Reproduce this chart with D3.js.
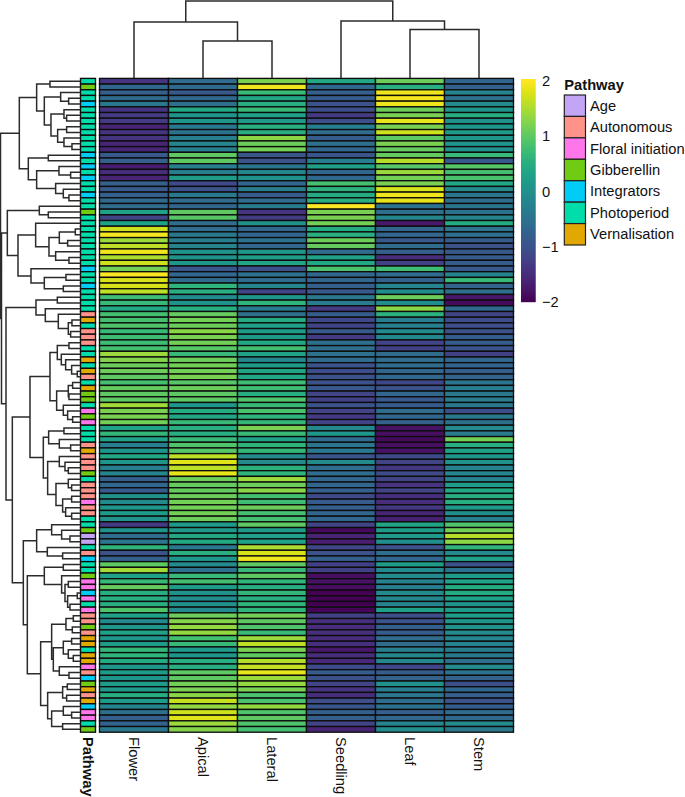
<!DOCTYPE html>
<html><head><meta charset="utf-8">
<script src="https://cdn.jsdelivr.net/npm/d3@7"></script>
<style>html,body{margin:0;padding:0;background:#fff}svg{display:block}text{font-family:"Liberation Sans",Arial,sans-serif;fill:#111}</style>
</head><body><svg id="c" width="685" height="797"></svg>
<script>
const tissues = ["Flower","Apical","Lateral","Seedling","Leaf","Stem"];
const flower = [-1.4,-.7,-.8,-.65,-.4,-1.4,-1.3,-1.3,-1.6,-1.4,-1.4,-1.6,-1.6,-.9,-.8,-1.7,-1.5,-1.6,-.8,-.9,-.8,-.65,-.6,.3,-1.2,.3,1.7,1.95,1.4,1.6,1.9,1.5,1.7,1.15,2,1.75,1.75,1.6,.75,
 .7,.4,.8,.8,.9,.7,.75,.75,.8,1.4,1.25,1.1,1.1,1,.8,1.05,1,1,1.45,1.2,1.2,1.15,.3,.65,.3,-.3,.1,.4,.1,-.3,-.2,-.8,-.7,-.85,0,-.1,.1,.2,0,-1.3,
 .05,-.6,-.45,.6,-1,-.8,1,1.45,.3,.7,1.05,.5,.5,.5,.9,.3,-.1,.1,.3,.1,.2,.65,.6,.45,.1,.2,.1,.2,.15,.5,.2,-.2,-.55,-.8,-.75,-.4];
const apical = [-.6,-.65,-.9,-.7,-.55,.4,.1,.1,-.4,-.5,-.3,-.2,-.3,1,1,-.3,-.3,.2,-1.1,-1,-.4,-.6,-.7,1,.95,-.6,-.6,-.4,-.3,-.2,0,0,.1,-.95,-.7,-.6,.6,.5,-.1,
 .05,.5,1.05,1.15,1.1,1.3,1.2,1.15,.95,.7,1.1,1.15,1.15,1.2,.95,1.1,1,1,.1,.45,.35,.7,.5,.5,.7,.9,.95,1.6,1.8,1.6,1.85,1.1,1.05,1.05,1.1,1.15,1.15,1.15,1.1,.15,
 .15,.4,.4,-.4,.5,.1,-.1,-.5,.7,.8,.2,0,-.1,0,-.1,1.1,1.25,1.35,1.35,.8,.7,.2,.1,.5,.5,1,1,1.15,1.2,1.3,1.65,1.35,1.7,1.8,1.4,1.25];
const lateral = [1.2,1.9,.7,.35,.5,.7,.25,.15,.5,.5,1.3,1.1,1.15,-.95,-1,-.45,-.15,0,-.7,-.35,-.85,-.6,-.35,-1.4,-1.3,0,-.7,-.7,-.5,-.7,.1,.2,.35,-1,-.5,-.6,-.2,-1.2,.1,
 .6,-.35,-.55,.45,.3,.2,.15,.4,.8,.3,-.15,.2,.35,.4,.75,.75,.5,.9,.7,.85,.6,.65,1.2,.7,.3,.6,.65,-.1,-.1,.55,.6,1.4,1.1,1.3,.8,.75,1.1,.8,.8,1,
 .2,.25,.3,1.5,1.75,1.9,1,.7,1,.6,.5,.65,.5,.6,.6,1.15,1,.9,.7,1.4,1.6,1.2,1,1.55,1.65,1.85,1.4,1.35,1.2,.85,.85,1.35,.9,1,.9,.8];
const seedling = [.4,-.65,-.8,-.85,-1,-1.05,-1.3,-1.05,-.3,-.6,-.85,-.55,-.7,-.95,-.3,.25,-.7,-.7,.8,.55,.45,.5,2,1.2,1.2,1.15,.45,.5,1.1,1.05,-.6,.3,.4,.85,-.7,-.7,-.8,-.9,-.4,
 -.35,-1.3,-.85,-1.15,-1.2,-.9,-1.3,-.55,-.55,-.5,-.6,-1,-1.05,-1,-1,-.9,-1.2,-1.25,-1,-1.2,-1.3,-1.2,-.15,.1,-.6,-.45,-.4,-.95,-.1,-.6,-.6,-.7,-.7,-.8,-1.1,-.85,-.8,-.7,-.7,-1.2,
 -1.9,-1.6,-1.7,-1.15,-1,-.8,-1.25,-1.25,-1.85,-1.8,-1.85,-2,-2,-2,-1.95,-1.25,-1.45,-1.5,-1.45,-1.5,-1.45,-1.75,-1.5,-1.55,-1.1,-.85,-1,-1.2,-1.4,-1.5,-1.05,-.95,-.8,-.8,-1.2,-1.6];
const leaf = [1.1,.5,1.9,1.95,1.9,1.1,1.2,1.85,1.2,1.7,1,1.2,1.05,1.05,1.55,.95,1.4,1.15,1.2,1.75,1.9,1.85,-.5,-.55,-.15,-1.75,-.7,-.7,-.9,-.6,-.8,-1.5,-1.25,.75,-.6,-.75,-.2,-.05,1.1,
 -.05,1.3,.55,-.3,-.3,-.1,-.15,-1.2,-1.25,-.6,-.6,-.6,-.7,-.7,-1.15,-1,-.7,-.9,-.85,-.6,-.7,-.75,-1.8,-1.85,-1.9,-1.85,-1.8,-1.1,-1.2,-1.35,-1.1,-1.2,-1.4,-1.2,-1.45,-1.5,-1.35,-1.6,-1.65,.35,
 .2,.15,-.05,-1,-.55,-.7,.2,-.1,-.1,-.25,-.3,-.1,-.15,-.2,.25,-1.05,-1,-.8,-.85,-.6,-.6,-.3,-.15,-.15,-1.15,-.85,-.75,0,-.3,-.45,-.6,-.5,-.8,-.7,-.2,-.05];
const stem = [-.7,-.75,-.2,-.5,-.1,.1,.5,0,.1,.2,.1,.05,0,.7,-.9,.95,.8,.85,.4,-.1,-.45,-.55,-.45,-.5,-.2,.45,-.45,-.55,-.85,-1,-.9,-.85,-.85,-.9,-.2,.7,-.75,-.55,-1.75,
 -1.9,-.65,-1.2,-1.1,-1.05,-1,-.85,-.85,-.95,-1.25,-.7,-.75,-.8,-.75,-.45,-.3,-.4,-.35,-.4,-1.05,-.4,-.55,-.1,-.35,1.15,.5,.3,.1,0,-.25,-.15,-.2,.2,.4,.5,.5,.15,-.05,-.3,.9,
 1.15,1.55,1.3,.6,-.1,.25,-1,-.5,.2,.3,.45,.45,.25,.05,.2,.2,.1,0,-.1,-.2,-.25,-.35,-.4,-.55,-.1,-.5,-.75,-1.05,-.7,-.8,-1,-.85,-.6,-.65,-.1,-.4];
const seriesValues = [flower,apical,lateral,seedling,leaf,stem];
const pathwayNames = ["Age","Autonomous","Floral initiation","Gibberellin","Integrators","Photoperiod","Vernalisation"];
const pathwayColors = ["#C3A5F5","#FF9289","#FF76EA","#6FCC12","#00CCF5","#00DDAA","#E0A800"];
const rowPathway = "PGPPIPPPPPPPPIPIPIPPIPPGPPPPPPPPPIPPIP PPPAVPAAAPPVPVAPVGGPFGFPPPAVAAAGPAAAFAAPP GEEPAIPPGFFIFPFAAGAVVPVVFAIGVAVIFFPG".replace(/ /g,"");
const pathwayKey = {E:"Age",A:"Autonomous",F:"Floral initiation",G:"Gibberellin",I:"Integrators",P:"Photoperiod",V:"Vernalisation"};
const rowTree = [239.5,
 [183,
  [131,[91,0,0],[108,[59,0,[35,0,0]],[88,[49,0,[41,0,0]],[68,[41,0,0],[49,0,[25,0,0]]]]]],
  [156,[96,0,0],[131,[64,0,[29,0,0]],[74,0,[51,0,[34,0,0]]]]]],
 [236.5,
  [219,[123,0,[96,0,0]],
   [187,[134,0,[94,[63,[15,0,0],[38,0,0]],[74,0,[34,0,0]]]],[148,0,[108,[43,0,0],[51,0,0]]]]],
  [223,
   [133,[69,0,0],[105,0,[66,0,[36,[25,0,0],[29,0,0]]]]],
   [204,
    [151,
     [91,[69,[34,0,0],[57,0,[44,0,[26,0,[9,0,0]]]]],[71,[36,[23,0,0],[34,0,0]],[51,0,[38,0,[23,0,0]]]]],
     [111,[95,[49,0,0],[63,0,[29,0,0]]],
      [98,[63,0,[46,0,[36,0,0]]],[73,[36,0,[26,0,0]],[53,[26,0,0],[44,0,[26,0,0]]]]]]],
    [171,
     [131,[86,0,[56,0,[31,0,0]]],[99,0,[53,0,0]]],
     [159,
      [108,[51,0,0],[56,0,[46,[36,0,0],[38,[9,0,0],[31,0,0]]]]],
      [119,
       [86,[43,[21,0,0],[24,0,0]],[81,[51,[26,0,0],[36,0,[21,0,0]]],[63,0,[34,0,0]]]],
       [98,[53,[39,0,0],[41,0,0]],[86,[51,0,[26,0,0]],[53,0,0]]]]]]]]]];
const colTree = [77,[56,0,[37,0,0]],[57,0,[48.5,0,0]]];
const legendTicks = [2,1,0,-1,-2];

const margin = {heatL:99.5,heatR:513.5,heatT:78.4,heatB:732.2,annL:80.5,annR:95.5};
const FONT = 14.7;
const svg = d3.select("#c");
const rowIdx = d3.range(flower.length);
const x = d3.scaleBand().domain(tissues).range([margin.heatL,margin.heatR]);
const y = d3.scaleBand().domain(rowIdx).range([margin.heatT,margin.heatB]);
const viridisScale = d3.scaleSequential(d3.interpolateViridis).domain([-2,2]);
const pathColor = d3.scaleOrdinal().domain(pathwayNames).range(pathwayColors);
const BORDER = "#0d0d0d", LINE = "#2b2b2b";

// heatmap
svg.append("g").selectAll("g").data(tissues).join("g").each(function(t,ci){
  d3.select(this).selectAll("rect").data(seriesValues[ci]).join("rect")
    .attr("x",x(t)).attr("y",(d,i)=>y(i)).attr("width",x.bandwidth()).attr("height",y.bandwidth())
    .attr("fill",d=>viridisScale(d)).attr("stroke",BORDER).attr("stroke-width",1.35);
});
// annotation
svg.append("g").selectAll("rect").data(rowIdx).join("rect")
  .attr("x",margin.annL).attr("width",margin.annR-margin.annL)
  .attr("y",i=>y(i)).attr("height",y.bandwidth())
  .attr("fill",i=>pathColor(pathwayKey[rowPathway[i]])).attr("stroke",BORDER).attr("stroke-width",1.35);

// dendrograms
function toHier(n){return n===0?{h:0}:{h:n[0],children:[toHier(n[1]),toHier(n[2])]};}
function layout(tree,leafPos){
  const r=d3.hierarchy(toHier(tree)); let k=0;
  r.eachAfter(n=>{ n.p = n.children? (n.children[0].p+n.children[1].p)/2 : leafPos(k++); });
  return r;
}
const rowH = d3.scaleLinear().domain([0,241]).range([80.3,0]);
const colH = d3.scaleLinear().domain([0,78]).range([78,0]);
const rootR = layout(rowTree,k=>y(k)+y.bandwidth()/2);
const pR=d3.path();
rootR.each(n=>{ if(!n.children) return; const [a,b]=n.children;
  const X=rowH(n.data.h);
  pR.moveTo(rowH(a.data.h),a.p); pR.lineTo(X,a.p); pR.lineTo(X,b.p); pR.lineTo(rowH(b.data.h),b.p);
});
svg.append("path").attr("d",pR.toString()).attr("fill","none").attr("stroke",LINE).attr("stroke-width",1.5);
const rootC = layout(colTree,k=>x(tissues[k])+x.bandwidth()/2);
const pC=d3.path();
rootC.each(n=>{ if(!n.children) return; const [a,b]=n.children;
  const Y=colH(n.data.h);
  pC.moveTo(a.p,colH(a.data.h)); pC.lineTo(a.p,Y); pC.lineTo(b.p,Y); pC.lineTo(b.p,colH(b.data.h));
});
svg.append("path").attr("d",pC.toString()).attr("fill","none").attr("stroke",LINE).attr("stroke-width",1.5);

// column labels
svg.append("g").selectAll("text").data(tissues).join("text")
  .attr("transform",t=>`translate(${x(t)+x.bandwidth()/2-5.3},737) rotate(90)`)
  .attr("font-size",FONT).text(t=>t);
svg.append("text").attr("transform","translate(82.5,737) rotate(90)")
  .attr("font-size",FONT).attr("font-weight","bold").text("Pathway");

// colour bar
const barY = d3.scaleLinear().domain([-2,2]).range([301.8,80.8]);
const barRows = d3.range(79,302);
svg.append("g").selectAll("rect").data(barRows).join("rect")
  .attr("x",521).attr("width",14.7).attr("y",d=>d).attr("height",1.2)
  .attr("fill",d=>viridisScale(Math.max(-2,Math.min(2,barY.invert(d+.5)))));
const barAxis = d3.axisRight(barY).tickValues(legendTicks).tickSize(0).tickPadding(0)
  .tickFormat(d=>String(d).replace("-","\u2212"));
const ga = svg.append("g").attr("transform","translate(542,0)").call(barAxis);
ga.select(".domain").remove();
ga.selectAll("text").attr("font-size",FONT).attr("font-family",'"Liberation Sans",Arial,sans-serif').attr("fill","#111");

// legend
svg.append("text").attr("x",564.3).attr("y",89.5).attr("font-size",FONT).attr("font-weight","bold").text("Pathway");
const ly = d3.scaleBand().domain(pathwayNames).range([95,245]);
svg.append("g").selectAll("rect").data(pathwayNames).join("rect")
  .attr("x",564.3).attr("width",21.2).attr("y",d=>ly(d)).attr("height",ly.bandwidth())
  .attr("fill",d=>pathColor(d)).attr("stroke","#222").attr("stroke-width",1.2);
svg.append("g").selectAll("text").data(pathwayNames).join("text")
  .attr("x",590).attr("y",d=>ly(d)+ly.bandwidth()/2+5).attr("font-size",FONT).text(d=>d);
</script></body></html>
